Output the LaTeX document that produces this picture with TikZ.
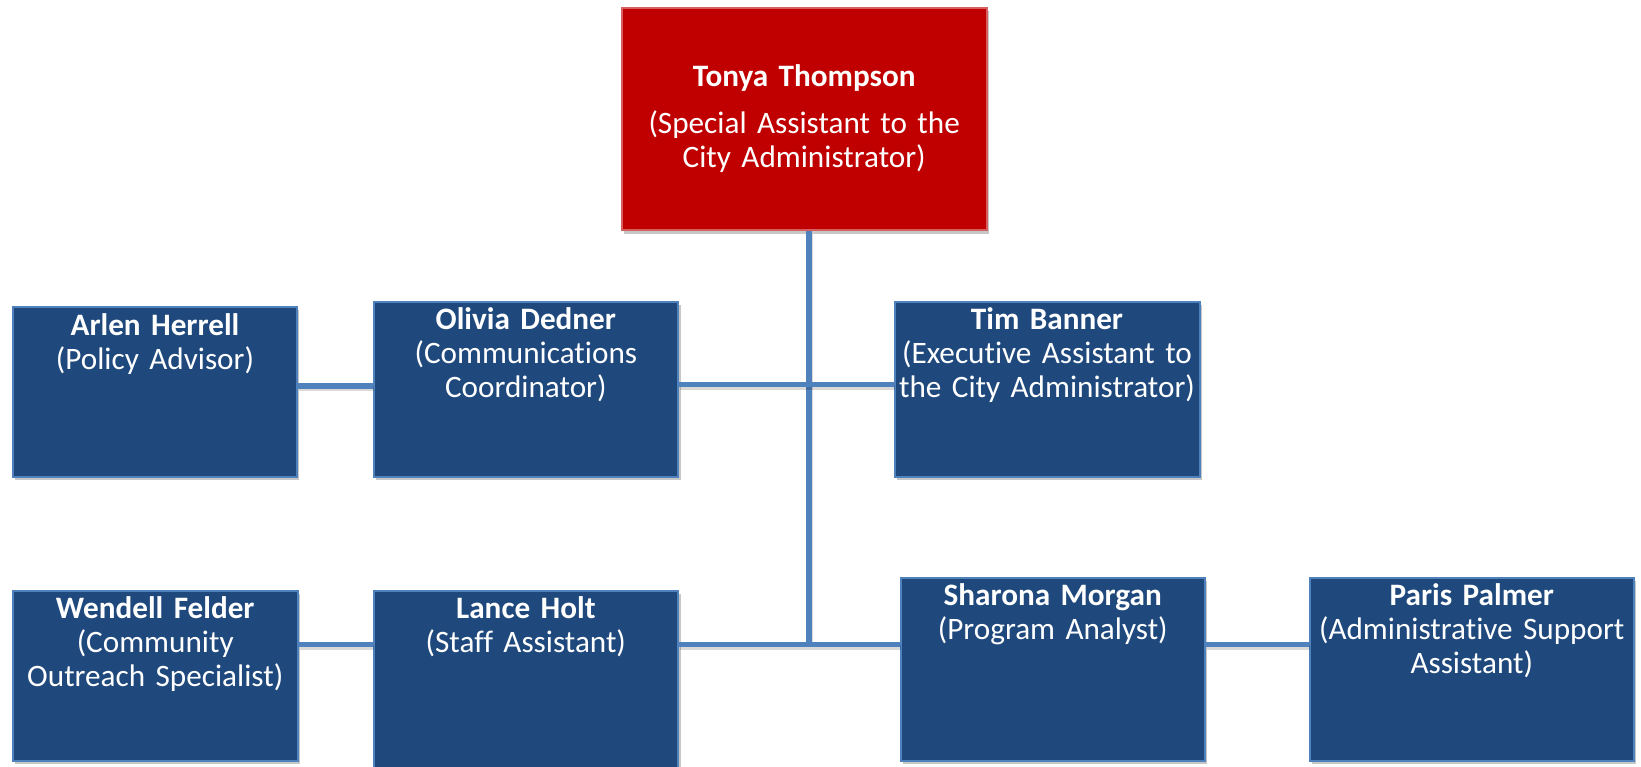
\documentclass[tikz,border=0pt]{standalone}
\usepackage{fontspec}
\setmainfont[Ligatures=NoCommon]{Carlito}
\usetikzlibrary{shadows}
\definecolor{boxblue}{RGB}{31,73,125}
\definecolor{edgeblue}{RGB}{79,129,189}
\definecolor{linkblue}{RGB}{79,129,189}
\definecolor{topred}{RGB}{192,0,0}
\definecolor{topedge}{RGB}{214,96,96}
\tikzset{
  orgbox/.style={draw=edgeblue, fill=boxblue, line width=1pt, inner sep=0pt,
    anchor=north west,
    drop shadow={shadow xshift=1.2pt, shadow yshift=-1.6pt, fill=black, opacity=0.22}},
  topbox/.style={orgbox, draw=topedge, fill=topred},
  boxtext/.style={text=white, anchor=base, align=center, text width=180pt, inner sep=0pt,
    font=\fontsize{15.6pt}{17pt}\selectfont},
  link/.style={draw=linkblue, line width=2.6pt,
    preaction={draw=black, opacity=0.15, line width=2.6pt, transform canvas={xshift=0.6pt, yshift=-1.4pt}}}
}
\begin{document}
\begin{tikzpicture}[x=0.5pt, y=-0.5pt]
\useasboundingbox (0,0) rectangle (1641,766);
\fill[white] (0,0) rectangle (1641,766);

% junction coordinates
\coordinate (j0) at (334,386);
\coordinate (j1) at (809,384.7);
\coordinate (j2) at (809,644.3);

% boxes
\node[topbox, minimum width=182.5pt, minimum height=111.3pt] (tonya) at (620.7,6.7) {};
\node[orgbox, minimum width=142pt, minimum height=85pt] (arlen) at (12,306) {};
\node[orgbox, minimum width=152.35pt, minimum height=87.5pt] (olivia) at (372.5,301) {};
\node[orgbox, minimum width=152.5pt, minimum height=87.5pt] (tim) at (893.5,301) {};
\node[orgbox, minimum width=142.25pt, minimum height=85pt] (wendell) at (12,590) {};
\node[orgbox, minimum width=152.35pt, minimum height=92pt] (lance) at (372.5,590) {};
\node[orgbox, minimum width=152.25pt, minimum height=91.75pt] (sharona) at (899.5,576.5) {};
\node[orgbox, minimum width=161.75pt, minimum height=91.75pt] (paris) at (1309,576.5) {};

% texts
\node[boxtext] (t-tonya) at ([yshift=-39.65pt]tonya.north)
  {\textbf{Tonya Thompson}\\[6.65pt](Special Assistant to the\\City Administrator)};
\node[boxtext] (t-arlen) at ([yshift=-14.5pt]arlen.north)
  {\textbf{Arlen Herrell}\\(Policy Advisor)};
\node[boxtext] (t-olivia) at ([yshift=-14.25pt]olivia.north)
  {\textbf{Olivia Dedner}\\(Communications\\Coordinator)};
\node[boxtext] (t-tim) at ([yshift=-14.25pt]tim.north)
  {\textbf{Tim Banner}\\(Executive Assistant to\\the City Administrator)};
\node[boxtext] (t-wendell) at ([yshift=-14.25pt]wendell.north)
  {\textbf{Wendell Felder}\\(Community\\Outreach Specialist)};
\node[boxtext] (t-lance) at ([yshift=-14.25pt]lance.north)
  {\textbf{Lance Holt}\\(Staff Assistant)};
\node[boxtext] (t-sharona) at ([yshift=-14.25pt]sharona.north)
  {\textbf{Sharona Morgan}\\(Program Analyst)};
\node[boxtext] (t-paris) at ([yshift=-14.25pt]paris.north)
  {\textbf{Paris Palmer}\\(Administrative Support\\Assistant)};

% connectors
\draw[link] (tonya.south -| j2) -- (j2);
\draw[link] (olivia.east |- j1) -- (tim.west |- j1);
\draw[link] (arlen.east |- j0) -- (olivia.west |- j0);
\draw[link] (wendell.east |- j2) -- (lance.west |- j2);
\draw[link] (lance.east |- j2) -- (sharona.west |- j2);
\draw[link] (sharona.east |- j2) -- (paris.west |- j2);
\end{tikzpicture}
\end{document}
